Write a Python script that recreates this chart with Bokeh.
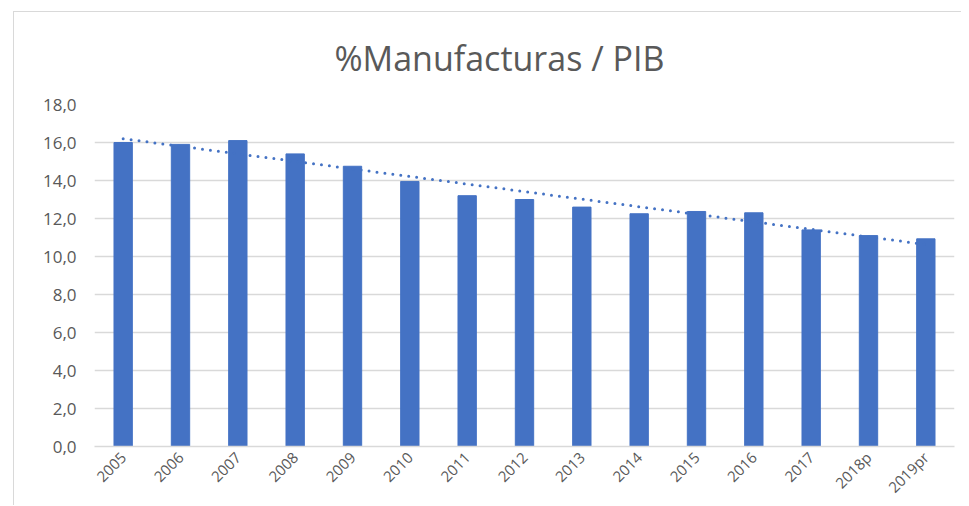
import numpy as np
from bokeh.plotting import figure
from bokeh.models import ColumnDataSource, FactorRange, Range1d, CustomJSTickFormatter, FixedTicker
from bokeh.embed import file_html
from bokeh.resources import INLINE

years = ["2005", "2006", "2007", "2008", "2009", "2010", "2011", "2012",
         "2013", "2014", "2015", "2016", "2017", "2018p", "2019pr"]
share = [16.0, 15.9, 16.1, 15.4, 14.75, 13.95, 13.2, 13.0,
         12.6, 12.25, 12.37, 12.3, 11.4, 11.1, 10.93]
y_ticks = [0, 2, 4, 6, 8, 10, 12, 14, 16, 18]

# linear trend (as in the spreadsheet's trendline)
idx = np.arange(1, len(share) + 1)
slope, intercept = np.polyfit(idx, share, 1)
trend = list(intercept + slope * idx)

src = ColumnDataSource(dict(year=years, share=share, trend=trend))

p = figure(x_range=FactorRange(*years), y_range=Range1d(0, 18),
           width=948, height=494, output_backend="svg", toolbar_location=None,
           title="%Manufacturas / PIB")
p.min_border_left = 80
p.min_border_right = 8
p.min_border_top = 92
p.min_border_bottom = 60
p.outline_line_color = None

p.title.align = "left"
p.title.vertical_align = "top"
p.title.text_font = "Open Sans"
p.title.text_font_size = "34px"
p.title.text_font_style = "normal"
p.title.text_color = "#595959"
p.title.standoff = 43
p.title.offset = 240

p.vbar(x="year", top="share", width=0.32, source=src,
       fill_color="#4472C4", line_color="#4472C4")
p.line(x="year", y="trend", source=src, line_color="#4472C4",
       line_width=3, line_dash="0 8", line_cap="round")

p.yaxis.ticker = FixedTicker(ticks=y_ticks)
p.yaxis.formatter = CustomJSTickFormatter(code="return tick.toFixed(1).replace('.', ',');")
p.yaxis.axis_line_color = None
p.yaxis.major_tick_line_color = None
p.yaxis.minor_tick_line_color = None
p.yaxis.major_label_text_font = "Open Sans"
p.yaxis.major_label_text_font_size = "17px"
p.yaxis.major_label_text_color = "#595959"
p.yaxis.major_label_standoff = 12

p.xaxis.axis_line_color = "#d9d9d9"
p.xaxis.axis_line_width = 1.5
p.xaxis.major_tick_line_color = None
p.xaxis.minor_tick_line_color = None
p.xaxis.major_label_orientation = 0.785
p.xaxis.major_label_text_font = "Open Sans"
p.xaxis.major_label_text_font_size = "15px"
p.xaxis.major_label_text_color = "#595959"
p.xaxis.major_label_standoff = 2

p.xgrid.grid_line_color = None
p.ygrid.grid_line_color = "#d9d9d9"
p.ygrid.grid_line_width = 1.5

p.styles = {"margin-left": "12.5px", "margin-top": "10.5px",
            "border-left": "1.5px solid #d9d9d9", "border-top": "1.5px solid #d9d9d9"}

open("out.html", "w").write(file_html(p, INLINE))
